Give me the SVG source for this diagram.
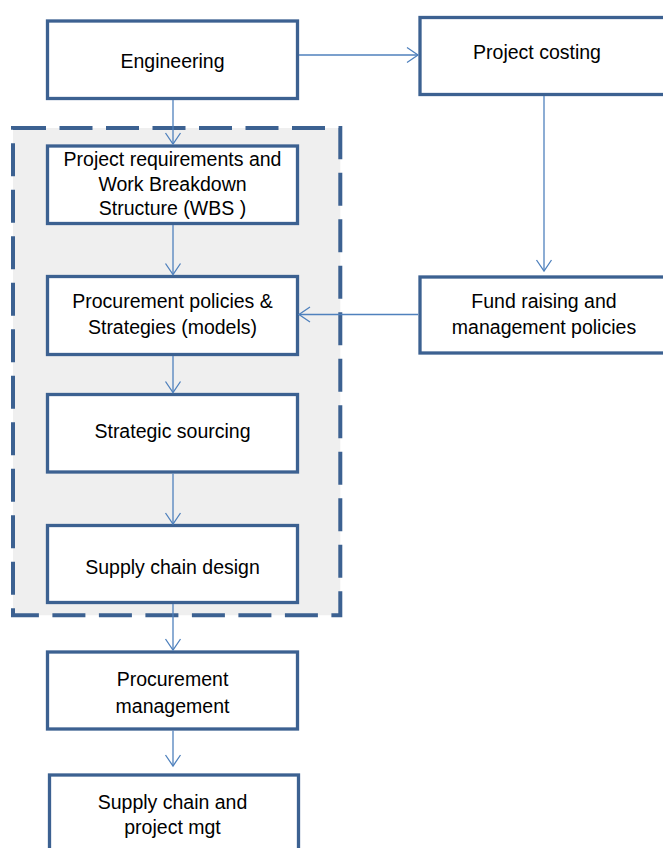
<svg xmlns="http://www.w3.org/2000/svg" width="663" height="848" viewBox="0 0 663 848">
<style>
.box{fill:#ffffff;stroke:#3c6191;stroke-width:3.3}
.grp{fill:#efefef;stroke:#3c6191;stroke-width:4;stroke-dasharray:33 13.5}
.lbl{font-family:"Liberation Sans",Arial,sans-serif;font-size:19.5px;fill:#000;text-anchor:middle}
.con{fill:none;stroke:#4f81bd;stroke-width:1.3;marker-end:url(#arr)}
</style>
<defs>
<marker id="arr" markerUnits="userSpaceOnUse" markerWidth="14" markerHeight="18" viewBox="-12 -9 14 18" refX="0" refY="0" orient="auto" overflow="visible">
<path d="M-11,-7.5 L0,0 L-11,7.5" fill="none" stroke="#4f81bd" stroke-width="1.3"/>
</marker>
</defs>
<rect width="663" height="848" fill="#ffffff"/>
<g id="group-procurement">
<path class="grp" d="M13,128 H340.3 V615.3 H13 Z"/>
</g>
<g id="engineering">
<rect class="box" x="47.5" y="21" width="250" height="77.5"/>
<text class="lbl" x="172.5" y="68">Engineering</text>
</g>
<g id="project-costing">
<rect class="box" x="420" y="17.5" width="250" height="77"/>
<text class="lbl" x="537" y="59">Project costing</text>
</g>
<g id="project-requirements">
<rect class="box" x="47.5" y="146" width="250" height="77.5"/>
<text class="lbl" x="172.5" y="166">Project requirements and</text>
<text class="lbl" x="172.5" y="190.5">Work Breakdown</text>
<text class="lbl" x="172.5" y="215">Structure (WBS )</text>
</g>
<g id="fund-raising">
<rect class="box" x="420" y="277" width="250" height="76"/>
<text class="lbl" x="544" y="307.5">Fund raising and</text>
<text class="lbl" x="544" y="334">management policies</text>
</g>
<g id="procurement-policies">
<rect class="box" x="47.5" y="276.5" width="250" height="78"/>
<text class="lbl" x="172.5" y="308">Procurement policies &amp;</text>
<text class="lbl" x="172.5" y="333.5">Strategies (models)</text>
</g>
<g id="strategic-sourcing">
<rect class="box" x="47.5" y="394.5" width="250" height="77.5"/>
<text class="lbl" x="172.5" y="438">Strategic sourcing</text>
</g>
<g id="supply-chain-design">
<rect class="box" x="47.5" y="525.5" width="250" height="77"/>
<text class="lbl" x="172.5" y="574">Supply chain design</text>
</g>
<g id="procurement-management">
<rect class="box" x="47.5" y="652" width="250" height="77"/>
<text class="lbl" x="172.5" y="686">Procurement</text>
<text class="lbl" x="172.5" y="712.5">management</text>
</g>
<g id="supply-chain-project-mgt">
<rect class="box" x="49.5" y="775" width="249" height="90"/>
<text class="lbl" x="172.5" y="809">Supply chain and</text>
<text class="lbl" x="172.5" y="834">project mgt</text>
</g>
<g id="connectors">
<path class="con" d="M299,55 H418"/>
<path class="con" d="M173,100 V144"/>
<path class="con" d="M544,96 V271"/>
<path class="con" d="M173,225 V274.5"/>
<path class="con" d="M418,314.5 H299"/>
<path class="con" d="M173,356 V392.5"/>
<path class="con" d="M173,473.5 V524"/>
<path class="con" d="M173,604 V650"/>
<path class="con" d="M173,730.5 V766"/>
</g>
</svg>
